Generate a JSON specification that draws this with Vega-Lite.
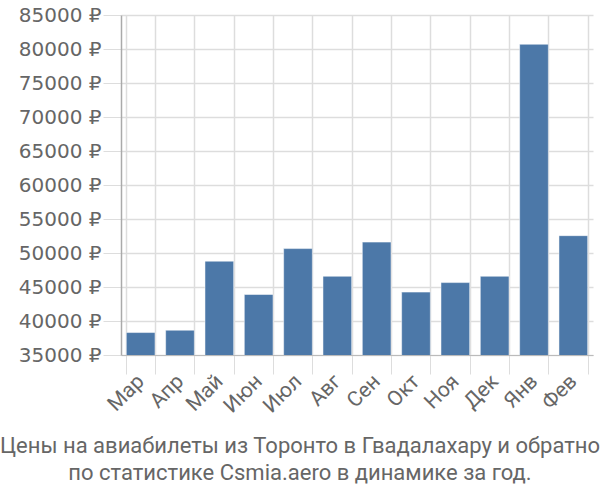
{
  "$schema": "https://vega.github.io/schema/vega-lite/v6.json",
  "width": 472,
  "height": 340,
  "autosize": {"type": "none"},
  "padding": {"left": 121, "top": 15, "right": 7, "bottom": 145},
  "background": "white",
  "data": {
    "values": [
      {"month": "Мар", "price": 38300},
      {"month": "Апр", "price": 38650},
      {"month": "Май", "price": 48800},
      {"month": "Июн", "price": 43900},
      {"month": "Июл", "price": 50650},
      {"month": "Авг", "price": 46580},
      {"month": "Сен", "price": 51600},
      {"month": "Окт", "price": 44250},
      {"month": "Ноя", "price": 45650},
      {"month": "Дек", "price": 46580},
      {"month": "Янв", "price": 80700},
      {"month": "Фев", "price": 52550}
    ]
  },
  "title": {
    "text": ["Цены на авиабилеты из Торонто в Гвадалахару и обратно", "по статистике Csmia.aero в динамике за год."],
    "orient": "bottom",
    "anchor": "middle",
    "dx": -57,
    "offset": 20,
    "font": "Roboto",
    "fontSize": 22,
    "fontWeight": "normal",
    "color": "#666666",
    "lineHeight": 27
  },
  "mark": {"type": "bar", "color": "#4c78a8", "stroke": "#ffffff", "strokeOpacity": 0.5, "strokeWidth": 1, "clip": true},
  "encoding": {
    "x": {
      "field": "month",
      "type": "nominal",
      "sort": null,
      "scale": {"paddingInner": 0.27, "paddingOuter": 0.135},
      "axis": {
        "title": null,
        "labelAngle": -45,
        "labelAlign": "right",
        "labelBaseline": "middle",
        "labelFont": "Roboto",
        "labelFontSize": 21,
        "labelColor": "#666666",
        "labelPadding": 4,
        "tickBand": "extent",
        "tickSize": 19,
        "tickColor": "#dddddd",
        "domainColor": "#bbbbbb",
        "grid": true,
        "gridColor": "#dddddd",
        "gridWidth": 1.5
      }
    },
    "y": {
      "field": "price",
      "type": "quantitative",
      "scale": {"domain": [35000, 85000], "nice": false, "zero": false},
      "axis": {
        "title": null,
        "values": [35000, 40000, 45000, 50000, 55000, 60000, 65000, 70000, 75000, 80000, 85000],
        "labelExpr": "format(datum.value, 'd') + ' ₽'",
        "labelFont": "DejaVu Sans",
        "labelFontSize": 20,
        "labelColor": "#666666",
        "labelPadding": 2,
        "tickSize": 18,
        "tickColor": "#dddddd",
        "domainColor": "#aaaaaa",
        "domainWidth": 1.5,
        "grid": true,
        "gridColor": "#dddddd",
        "gridWidth": 1.5
      }
    }
  },
  "config": {"view": {"stroke": null}}
}
